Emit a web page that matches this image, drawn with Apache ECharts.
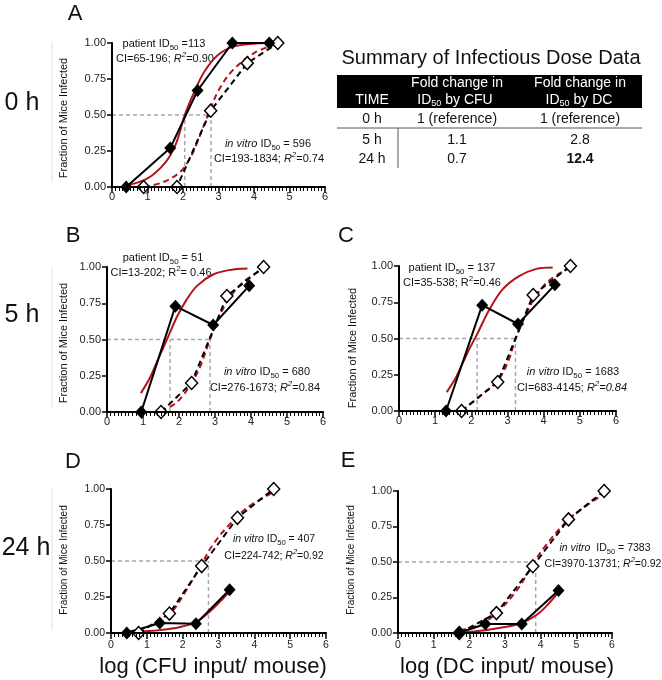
<!DOCTYPE html>
<html>
<head>
<meta charset="utf-8">
<script src="https://cdn.jsdelivr.net/npm/echarts@6/dist/echarts.min.js"></script>
<style>
  html, body { margin: 0; background: #fff; }
  #chart { width: 662px; height: 680px; }
</style>
</head>
<body>
<div id="chart"></div>
<script>
// axis ticks
const xTicks = [0, 1, 2, 3, 4, 5, 6]
const yTicks = [0, 0.25, 0.5, 0.75, 1]

// A: 0 h, CFU
const aPatient = [[0.40, 0], [1.64, 0.27], [2.41, 0.67], [3.39, 1], [4.43, 1]]
const aVitro = [[0.89, 0], [1.83, 0], [2.78, 0.53], [3.81, 0.86], [4.67, 1]]
const aPatientFit = [[0.4, 0.01], [1.0, 0.06], [1.5, 0.17], [1.8, 0.3], [2.05, 0.5], [2.3, 0.65], [2.6, 0.8], [3.0, 0.92], [3.5, 0.98], [4.43, 1.0]]
const aVitroFit = [[0.9, 0], [1.4, 0.03], [1.9, 0.1], [2.2, 0.2], [2.45, 0.34], [2.7, 0.5], [3.0, 0.67], [3.4, 0.81], [4.0, 0.93], [4.6, 0.99]]
const aId50 = [2.05, 2.79]

// B: 5 h, CFU
const bPatient = [[0.95, 0], [1.9, 0.73], [2.95, 0.6], [3.95, 0.87]]
const bVitro = [[1.5, 0], [2.35, 0.2], [3.33, 0.8], [4.35, 1.0]]
const bPatientFit = [[0.94, 0.13], [1.2, 0.24], [1.43, 0.37], [1.7, 0.52], [1.95, 0.66], [2.2, 0.77], [2.5, 0.87], [2.96, 0.95], [3.42, 0.98], [3.9, 0.99]]
const bVitroFit = [[1.5, 0], [1.95, 0.07], [2.35, 0.2], [2.6, 0.32], [2.86, 0.5], [3.14, 0.67], [3.41, 0.79], [3.8, 0.9], [4.35, 0.99]]
const bId50 = [1.75, 2.86]

// C: 5 h, DC
const cPatient = [[1.3, 0], [2.3, 0.73], [3.29, 0.6], [4.31, 0.87]]
const cVitro = [[1.73, 0], [2.73, 0.2], [3.71, 0.8], [4.74, 1.0]]
const cPatientFit = [[1.32, 0.13], [1.55, 0.22], [1.76, 0.33], [1.95, 0.43], [2.16, 0.53], [2.5, 0.7], [2.87, 0.84], [3.32, 0.93], [3.8, 0.98], [4.25, 0.99]]
const cVitroFit = [[1.73, 0], [2.22, 0.1], [2.73, 0.21], [3.0, 0.33], [3.23, 0.5], [3.5, 0.66], [3.78, 0.79], [4.15, 0.9], [4.74, 0.99]]
const cId50 = [2.16, 3.22]

// D: 24 h, CFU
const dPatient = [[0.44, 0], [1.36, 0.07], [2.37, 0.065], [3.31, 0.3]]
const dVitro = [[0.77, 0], [1.63, 0.135], [2.53, 0.465], [3.53, 0.8], [4.54, 1.0]]
const dPatientFit = [[0.44, 0], [0.9, 0.01], [1.36, 0.02], [1.9, 0.04], [2.37, 0.075], [2.76, 0.15], [3.05, 0.22], [3.31, 0.29]]
const dVitroFit = [[0.49, 0.01], [1.0, 0.04], [1.63, 0.13], [2.11, 0.3], [2.53, 0.48], [2.86, 0.62], [3.33, 0.76], [3.8, 0.87], [4.54, 0.98]]
const dId50 = [2.72]

// E: 24 h, DC
const ePatient = [[1.7, 0], [2.45, 0.063], [3.47, 0.063], [4.5, 0.3]]
const eVitro = [[1.72, 0], [2.76, 0.14], [3.78, 0.47], [4.78, 0.8], [5.78, 1.0]]
const ePatientFit = [[1.7, 0], [2.45, 0.02], [2.95, 0.04], [3.47, 0.07], [3.9, 0.13], [4.2, 0.2], [4.5, 0.29]]
const eVitroFit = [[1.75, 0.02], [2.3, 0.06], [2.76, 0.14], [3.33, 0.3], [3.75, 0.47], [4.09, 0.6], [4.78, 0.8], [5.3, 0.9], [5.78, 0.98]]
const eId50 = [3.86]

// table
const tableTimes = ['0 h', '5 h', '24 h']
const tableCfu = ['1 (reference)', '1.1', '0.7']
const tableDc = ['1 (reference)', '2.8', '12.4']

const FONT = '"Liberation Sans", Arial, sans-serif'
const RED = '#b3141c'
const GRAY = '#a8a8a8'

const panels = [
  { grid: { left: 112, top: 43, width: 213, height: 144 }, patient: aPatient, vitro: aVitro, pFit: aPatientFit, vFit: aVitroFit, id50: aId50, fs: 11, xm: 4 },
  { grid: { left: 107, top: 267, width: 216, height: 145 }, patient: bPatient, vitro: bVitro, pFit: bPatientFit, vFit: bVitroFit, id50: bId50, fs: 11, xm: 4 },
  { grid: { left: 399, top: 266, width: 217, height: 145 }, patient: cPatient, vitro: cVitro, pFit: cPatientFit, vFit: cVitroFit, id50: cId50, fs: 11, xm: 4 },
  { grid: { left: 111, top: 489, width: 215, height: 144 }, patient: dPatient, vitro: dVitro, pFit: dPatientFit, vFit: dVitroFit, id50: dId50, fs: 10.5, xm: 7 },
  { grid: { left: 398, top: 491, width: 214, height: 142 }, patient: ePatient, vitro: eVitro, pFit: ePatientFit, vFit: eVitroFit, id50: eId50, fs: 10.5, xm: 7 }
]

const line = (g, data, color, opts) => Object.assign({
  type: 'line', xAxisIndex: g, yAxisIndex: g, data,
  symbol: 'none', clip: false, silent: true,
  lineStyle: { color, width: 2 }
}, opts)

const series = []
panels.forEach((p, g) => {
  // ID50 guide lines
  const far = Math.max(...p.id50)
  const guide = { lineStyle: { color: GRAY, width: 1.5, type: [4, 3] } }
  series.push(line(g, [[0, 0.5], [far, 0.5]], GRAY, guide))
  p.id50.forEach(x => series.push(line(g, [[x, 0], [x, 0.5]], GRAY, guide)))
  // fits
  series.push(line(g, p.pFit, RED, { smooth: 0.35, lineStyle: { color: RED, width: 2 } }))
  series.push(line(g, p.vFit, RED, { smooth: 0.35, lineStyle: { color: RED, width: 2, type: [6, 4] } }))
  // data
  series.push(line(g, p.vitro, '#000', {
    lineStyle: { color: '#000', width: 2, type: [6, 4] },
    symbol: 'diamond', symbolSize: [12, 13],
    itemStyle: { color: '#fff', borderColor: '#000', borderWidth: 1.5 }
  }))
  series.push(line(g, p.patient, '#000', {
    lineStyle: { color: '#000', width: 2 },
    symbol: 'diamond', symbolSize: [12, 13],
    itemStyle: { color: '#000' }
  }))
})

const xAxis = panels.map((p, g) => ({
  gridIndex: g, type: 'value', z: 5, min: xTicks[0], max: xTicks[xTicks.length - 1], interval: 1,
  axisLine: { show: true, onZero: false, lineStyle: { color: '#000', width: 2 } },
  axisTick: { show: true, length: 6, lineStyle: { color: '#000', width: 1.5 } },
  minorTick: { show: true, splitNumber: 10, length: 4, lineStyle: { color: '#000', width: 1 } },
  axisLabel: { fontSize: p.fs, color: '#222', fontFamily: FONT, margin: p.xm },
  splitLine: { show: false }
}))

const yAxis = panels.map((p, g) => ({
  gridIndex: g, type: 'value', z: 5, min: yTicks[0], max: yTicks[yTicks.length - 1], interval: 0.25,
  axisLine: { show: true, onZero: false, lineStyle: { color: '#000', width: 2 } },
  axisTick: { show: true, length: 5, lineStyle: { color: '#000', width: 1.5 } },
  axisLabel: { fontSize: p.fs, color: '#222', fontFamily: FONT, margin: 6, formatter: v => v.toFixed(2) },
  splitLine: { show: false }
}))

// rich text styles for annotations
const rich = size => ({
  n: { fontSize: size, fontFamily: FONT, lineHeight: 16, fill: '#111' },
  i: { fontSize: size, fontFamily: FONT, fontStyle: 'italic', lineHeight: 16, fill: '#111' },
  s: { fontSize: size * 0.72, fontFamily: FONT, lineHeight: 9, verticalAlign: 'bottom', fill: '#111' },
  p: { fontSize: size * 0.72, fontFamily: FONT, lineHeight: 9, verticalAlign: 'top', fill: '#111' },
  ip: { fontSize: size * 0.72, fontFamily: FONT, fontStyle: 'italic', lineHeight: 9, verticalAlign: 'top', fill: '#111' }
})

const txt = (x, y, text, size, extra) => ({
  type: 'text', x, y, silent: true,
  style: Object.assign({ text, fontSize: size, fontFamily: FONT, fill: '#111', align: 'center', verticalAlign: 'middle' }, extra)
})
const rtxt = (x, y, text, size) => txt(x, y, text, size, { rich: rich(size) })
const vtxt = (x, y, text, size) => Object.assign(txt(x, y, text, size), { rotation: Math.PI / 2 })
const faint = (x, y1, y2) => ({ type: 'line', silent: true, shape: { x1: x, y1, x2: x, y2 }, style: { stroke: '#e2e2e2', lineWidth: 1 } })

const graphic = [
  // panel letters and time labels
  txt(75, 14, 'A', 22), txt(73, 236, 'B', 22), txt(346, 236, 'C', 22), txt(73, 462, 'D', 22), txt(348, 461, 'E', 22),
  txt(22, 103, '0 h', 25), txt(22, 315, '5 h', 25), txt(26, 548, '24 h', 25),
  // y titles
  vtxt(64, 118, 'Fraction of Mice Infected', 11),
  vtxt(64, 343, 'Fraction of Mice Infected', 11),
  vtxt(353, 348, 'Fraction of Mice Infected', 11),
  vtxt(64, 560, 'Fraction of Mice Infected', 10),
  vtxt(351, 560, 'Fraction of Mice Infected', 10),
  faint(52, 42, 182), faint(52, 268, 408), faint(52, 488, 630),
  // x titles
  txt(213, 667, 'log (CFU input/ mouse)', 22),
  txt(507, 667, 'log (DC input/ mouse)', 22),
  // annotations
  rtxt(164, 44, '{n|patient ID}{s|50}{n| =113}', 11),
  rtxt(165, 59, '{n|CI=65-196; }{i|R}{ip|2}{n|=0.90}', 11),
  rtxt(268, 144, '{i|in vitro}{n| ID}{s|50}{n| = 596}', 11),
  rtxt(269, 159, '{n|CI=193-1834; }{i|R}{ip|2}{n|=0.74}', 11),
  rtxt(163, 258, '{n|patient ID}{s|50}{n| = 51}', 11),
  rtxt(161, 273, '{n|CI=13-202; R}{p|2}{n|= 0.46}', 11),
  rtxt(267, 372, '{i|in vitro}{n| ID}{s|50}{n| = 680}', 11),
  rtxt(265, 388, '{n|CI=276-1673; }{i|R}{ip|2}{n|=0.84}', 11),
  rtxt(452, 268, '{n|patient ID}{s|50}{n| = 137}', 11),
  rtxt(452, 283, '{n|CI=35-538; R}{p|2}{n|=0.46}', 11),
  rtxt(573, 372, '{i|in vitro}{n| ID}{s|50}{n| = 1683}', 11),
  rtxt(572, 388, '{n|CI=683-4145; }{i|R}{ip|2}{i|=0.84}', 11),
  rtxt(274, 539, '{i|in vitro}{n| ID}{s|50}{n| = 407}', 10.5),
  rtxt(274, 556, '{n|CI=224-742; }{i|R}{ip|2}{n|=0.92}', 10.5),
  rtxt(605, 548, '{i|in vitro}{n|  ID}{s|50}{n| = 7383}', 10.5),
  rtxt(603, 564, '{n|CI=3970-13731; }{i|R}{ip|2}{n|=0.92}', 10.5),
  // summary table
  txt(491, 58, 'Summary of Infectious Dose Data', 20),
  { type: 'rect', shape: { x: 337, y: 75, width: 305, height: 33 }, style: { fill: '#000' } },
  txt(372, 100, 'TIME', 14, { fill: '#fff' }),
  txt(457, 83, 'Fold change in', 14, { fill: '#fff' }),
  txt(580, 83, 'Fold change in', 14, { fill: '#fff' }),
  txt(455, 100, '{w|ID}{ws|50}{w| by CFU}', 14, { rich: {
    w: { fontSize: 14, fontFamily: FONT, fill: '#fff', lineHeight: 16 },
    ws: { fontSize: 9, fontFamily: FONT, fill: '#fff', lineHeight: 9, verticalAlign: 'bottom' } } }),
  txt(579, 100, '{w|ID}{ws|50}{w| by DC}', 14, { rich: {
    w: { fontSize: 14, fontFamily: FONT, fill: '#fff', lineHeight: 16 },
    ws: { fontSize: 9, fontFamily: FONT, fill: '#fff', lineHeight: 9, verticalAlign: 'bottom' } } }),
  { type: 'line', shape: { x1: 337, y1: 128, x2: 642, y2: 128 }, style: { stroke: '#555', lineWidth: 1 } },
  { type: 'line', shape: { x1: 398, y1: 128, x2: 398, y2: 168 }, style: { stroke: '#555', lineWidth: 1 } }
]

const rowY = [119, 140, 159]
tableTimes.forEach((t, i) => {
  graphic.push(txt(372, rowY[i], t, 14))
  graphic.push(txt(457, rowY[i], tableCfu[i], 14))
  graphic.push(txt(580, rowY[i], tableDc[i], 14, i === 2 ? { fontWeight: 'bold' } : {}))
})

const chart = echarts.init(document.getElementById('chart'))
chart.setOption({
  animation: false,
  backgroundColor: '#fff',
  grid: panels.map(p => Object.assign({}, p.grid)),
  xAxis,
  yAxis,
  series,
  graphic
})
</script>
</body>
</html>
